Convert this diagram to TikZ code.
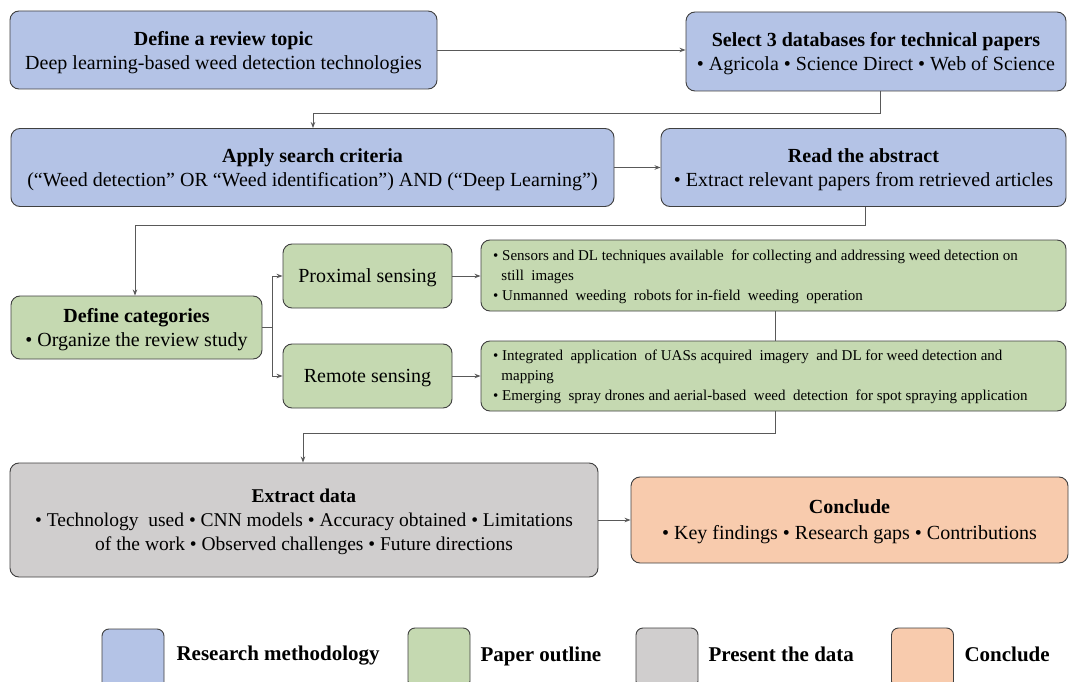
\documentclass[tikz,border=0pt]{standalone}
\usepackage{fontspec}
\setmainfont{Liberation Serif}
\usetikzlibrary{arrows.meta}
\definecolor{blu}{HTML}{B4C3E6}
\definecolor{grn}{HTML}{C5D9B1}
\definecolor{gry}{HTML}{D0CECE}
\definecolor{org}{HTML}{F8CBAD}
\definecolor{bord}{HTML}{404040}
\definecolor{lin}{HTML}{595959}
\begin{document}
\begin{tikzpicture}[x=1pt,y=-1pt,
  box/.style={draw=bord, line width=0.9pt, rounded corners=9pt, align=center, inner sep=0pt, text depth=0pt},
  main/.style={font=\fontsize{20}{24}\selectfont},
  small/.style={font=\fontsize{15}{20}\selectfont},
  conn/.style={draw=lin, line width=0.9pt},
  arr/.style={conn, -{Stealth[length=6pt,width=4.5pt]}},
  leg/.style={draw=bord, line width=0.9pt, rounded corners=7pt, minimum width=62pt, minimum height=60pt},
  legtxt/.style={anchor=west, font=\fontsize{21}{24}\selectfont\bfseries}
]
\clip (0,0) rectangle (1069,682);
\fill[white] (0,0) rectangle (1069,682);

% row 1
\node[box, main, fill=blu, minimum width=427pt, minimum height=78pt] (A) at (223.5,50)
  {\textbf{Define a review topic}\\Deep learning-based weed detection technologies};
\node[box, main, fill=blu, minimum width=380pt, minimum height=79pt] (B) at (876,51.5)
  {\textbf{Select 3 databases for technical papers}\\\textbullet{} Agricola \textbullet{} Science Direct \textbullet{} Web of Science};

% row 2
\node[box, main, fill=blu, minimum width=603pt, minimum height=78pt] (C) at (312.5,167.5)
  {\textbf{Apply search criteria}\\(``Weed detection'' OR ``Weed identification'') AND (``Deep Learning'')};
\node[box, main, fill=blu, minimum width=405pt, minimum height=78pt] (D) at (863.5,167.5)
  {\textbf{Read the abstract}\\\textbullet{} Extract relevant papers from retrieved articles};

% row 3
\node[box, main, fill=grn, minimum width=251pt, minimum height=63pt] (E) at (136.5,327.5)
  {\textbf{Define categories}\\\textbullet{} Organize\ the review study};
\node[box, fill=grn, font=\fontsize{20}{24}\selectfont, minimum width=169pt, minimum height=64pt] (P) at (367.5,276) {Proximal sensing};
\node[box, fill=grn, font=\fontsize{20}{24}\selectfont, minimum width=169pt, minimum height=64pt] (R) at (367.5,376) {Remote sensing};
\node[box, fill=grn, minimum width=585pt, minimum height=71pt] (PD) at (773.5,275.5) {};
\node[small, anchor=west, align=left, inner sep=0pt] (PDt) at (493,277)
  {\textbullet{} Sensors and DL techniques available\ \ for collecting and addressing weed detection on\\
   \hspace*{0.55em}still\ \ images\\
   \textbullet{} Unmanned\ \ weeding\ \ robots for in-field\ \ weeding\ \ operation};
\node[box, fill=grn, minimum width=585pt, minimum height=70pt] (RD) at (773.5,376) {};
\node[small, anchor=west, align=left, inner sep=0pt] (RDt) at (493,377)
  {\textbullet{} Integrated\ \ application\ \ of UASs acquired\ \ imagery\ \ and DL for weed detection and\\
   \hspace*{0.55em}mapping\\
   \textbullet{} Emerging\ \ spray drones and aerial-based\ \ weed\ \ detection\ \ for spot spraying application};

% row 4
\node[box, fill=gry, minimum width=588pt, minimum height=114pt, font=\fontsize{19.5}{24}\selectfont] (F) at (304,520)
  {\textbf{Extract data}\\\textbullet{} Technology\ \ used \textbullet{} CNN models \textbullet{} Accuracy obtained \textbullet{} Limitations\\of the work \textbullet{} Observed challenges \textbullet{} Future directions};
\node[box, fill=org, minimum width=437pt, minimum height=86pt, font=\fontsize{20}{26}\selectfont] (G) at (849.5,520)
  {\textbf{Conclude}\\\textbullet{} Key findings \textbullet{} Research gaps \textbullet{} Contributions};

% connectors
\draw[arr] (A.east) -- (B.west |- A.east);
\coordinate (b1) at (880,113);
\coordinate (b2) at (313,113);
\draw[arr] (B.south -| b1) -- (b1) -- (b2) -- (b2 |- C.north);
\draw[arr] (C.east) -- (D.west);
\coordinate (d1) at (865,225);
\coordinate (d2) at (135,225);
\draw[arr] (D.south -| d1) -- (d1) -- (d2) -- (d2 |- E.north);
\coordinate (e1) at (272,327.5);
\draw[conn] (E.east) -- (e1);
\draw[arr] (e1) |- (P.west);
\draw[arr] (e1) |- (R.west);
\draw[arr] (P.east) -- (PD.west |- P.east);
\draw[arr] (R.east) -- (RD.west |- R.east);
\coordinate (m1) at (775,300);
\draw[conn] (PD.south -| m1) -- (RD.north -| m1);
\coordinate (r1) at (775,433);
\coordinate (r2) at (303,433);
\draw[arr] (RD.south -| r1) -- (r1) -- (r2) -- (r2 |- F.north);
\draw[arr] (F.east) -- (G.west |- F.east);

% legend
\node[leg, fill=blu] (L1) at (133,659) {};
\node[legtxt] (L1t) at (173,656) {Research methodology};
\node[leg, fill=grn] (L2) at (439,658) {};
\node[legtxt] (L2t) at (477,656) {Paper outline};
\node[leg, fill=gry] (L3) at (667,658) {};
\node[legtxt] (L3t) at (705,654) {Present the data};
\node[leg, fill=org] (L4) at (922.5,658) {};
\node[legtxt] (L4t) at (961,654) {Conclude};
\end{tikzpicture}
\end{document}
